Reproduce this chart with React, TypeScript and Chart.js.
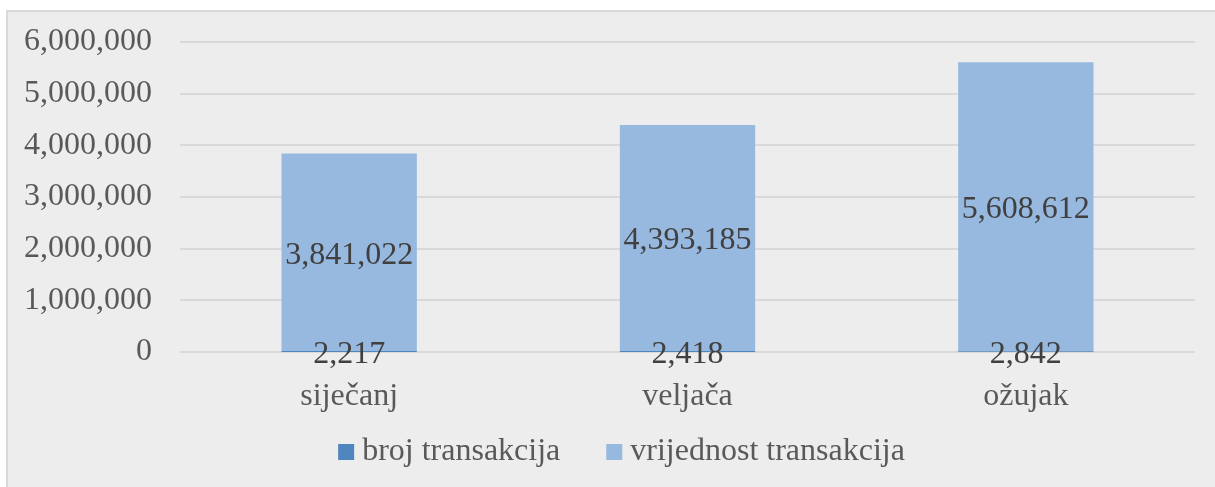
import React, { useEffect, useRef } from "react";
import { Chart, registerables } from "chart.js";

Chart.register(...registerables);

const categories = ["siječanj", "veljača", "ožujak"];
const seriesNames = ["broj transakcija", "vrijednost transakcija"];
const brojTransakcija = [2217, 2418, 2842];
const vrijednostTransakcija = [3841022, 4393185, 5608612];
const yTickValues = [0, 1000000, 2000000, 3000000, 4000000, 5000000, 6000000];

const FONT = "'Liberation Serif', 'Times New Roman', serif";
const FS = 32;
const LEGEND_PAD = 54;
const fmt = (v: number) => v.toLocaleString("en-US");

const framePlugin = {
  id: "frame",
  beforeDraw(chart: any) {
    const { ctx, width, height } = chart;
    ctx.save();
    ctx.fillStyle = "#ffffff";
    ctx.fillRect(0, 0, width, height);
    ctx.fillStyle = "#ededed";
    ctx.fillRect(6, 10, width - 6, height - 10);
    ctx.strokeStyle = "#d9d9d9";
    ctx.lineWidth = 2;
    ctx.beginPath();
    ctx.moveTo(7, height);
    ctx.lineTo(7, 11);
    ctx.lineTo(width, 11);
    ctx.stroke();
    ctx.restore();
  },
};

const layoutTweakPlugin = {
  id: "layoutTweak",
  afterLayout(chart: any) {
    const lg = chart.legend;
    if (lg) {
      const h = lg.height;
      lg.top = 382;
      lg.bottom = 382 + h;
      lg.left += 28;
      lg.right += 28;
    }
    const xs = chart.scales.x;
    if (xs) xs.bottom = 440;
  },
  afterDraw(chart: any) {
    const lg = chart.legend;
    if (!lg || !lg.legendHitBoxes || !lg.legendItems) return;
    const { ctx } = chart;
    ctx.save();
    lg.legendHitBoxes.forEach((hb: any, i: number) => {
      const item = lg.legendItems[i];
      ctx.fillStyle = chart.data.datasets[item.datasetIndex].backgroundColor;
      ctx.fillRect(hb.left - 8, lg.top + LEGEND_PAD + FS / 2 - 8, 16, 16);
    });
    ctx.restore();
  },
};

const dataLabelPlugin = {
  id: "dataLabels",
  afterDatasetsDraw(chart: any) {
    const { ctx } = chart;
    ctx.save();
    ctx.font = `${FS}px ${FONT}`;
    ctx.fillStyle = "#404040";
    ctx.textAlign = "center";
    ctx.textBaseline = "middle";
    chart.data.datasets.forEach((ds: any, di: number) => {
      const meta = chart.getDatasetMeta(di);
      meta.data.forEach((el: any, i: number) => {
        const p = el.getCenterPoint();
        ctx.fillText(fmt(ds.data[i] as number), p.x, p.y + 3);
      });
    });
    ctx.restore();
  },
};

export default function App() {
  const ref = useRef<HTMLCanvasElement | null>(null);

  useEffect(() => {
    if (!ref.current) return;
    const chart = new Chart(ref.current, {
      type: "bar",
      data: {
        labels: categories,
        datasets: [
          {
            label: seriesNames[0],
            data: brojTransakcija,
            backgroundColor: "#4f86bd",
            barPercentage: 0.4,
            categoryPercentage: 1,
            order: 1,
          },
          {
            label: seriesNames[1],
            data: vrijednostTransakcija,
            backgroundColor: "#97b8df",
            barPercentage: 0.4,
            categoryPercentage: 1,
            order: 0,
          },
        ],
      },
      options: {
        animation: false,
        responsive: true,
        maintainAspectRatio: false,
        layout: { padding: { top: 42, right: 20, left: 0, bottom: 0 } },
        plugins: {
          tooltip: { enabled: false },
          legend: {
            position: "bottom",
            labels: {
              font: { family: FONT, size: FS },
              color: "#595959",
              boxWidth: 0,
              boxHeight: 16,
              padding: LEGEND_PAD,
              sort: (a: any, b: any) => a.datasetIndex - b.datasetIndex,
            },
          },
        },
        scales: {
          x: {
            stacked: true,
            grid: { display: false },
            border: { display: false },
            ticks: {
              font: { family: FONT, size: FS },
              color: "#595959",
              padding: 17,
            },
            afterFit(scale: any) {
              scale.height = 39;
            },
          },
          y: {
            stacked: false,
            min: yTickValues[0],
            max: yTickValues[yTickValues.length - 1],
            grid: { color: "#d9d9d9", lineWidth: 2, drawTicks: false },
            border: { display: false },
            afterBuildTicks(scale: any) {
              scale.ticks = yTickValues.map((v) => ({ value: v }));
            },
            ticks: {
              font: { family: FONT, size: FS },
              color: "#595959",
              padding: 28,
              callback: (v: any) => fmt(Number(v)),
            },
            afterFit(scale: any) {
              scale.width = 180;
              scale.paddingTop = 0;
              scale.paddingBottom = 0;
            },
          },
        },
      },
      plugins: [framePlugin, layoutTweakPlugin, dataLabelPlugin],
    });
    return () => chart.destroy();
  }, []);

  return (
    <div style={{ position: "fixed", left: 0, top: 0, width: 1215, height: 487 }}>
      <canvas ref={ref} />
    </div>
  );
}
